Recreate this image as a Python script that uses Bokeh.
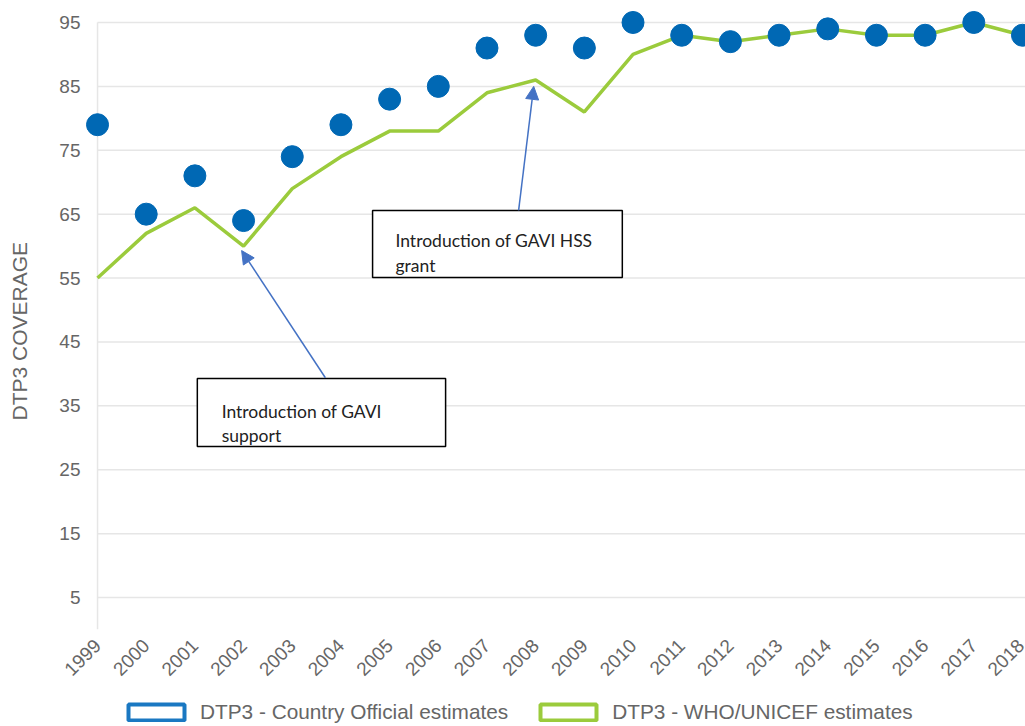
import math
from bokeh.plotting import figure
from bokeh.layouts import column
from bokeh.models import Range1d, FixedTicker, Legend, LegendItem, Arrow, NormalHead, Title
from bokeh.embed import file_html
from bokeh.resources import INLINE
from bokeh.core.properties import value

# ---- data ----
years = list(range(1999, 2019))
official = [79, 65, 71, 64, 74, 79, 83, 85, 91, 93, 91, 95, 93, 92, 93, 94, 93, 93, 95, 93]
who_unicef = [55, 62, 66, 60, 69, 74, 78, 78, 84, 86, 81, 90, 93, 92, 93, 94, 93, 93, 95, 93]
y_ticks = [5, 15, 25, 35, 45, 55, 65, 75, 85, 95]
x_labels = [str(y) for y in years]
series_names = ["DTP3 - Country Official estimates", "DTP3 - WHO/UNICEF estimates"]
y_title = "DTP3 COVERAGE"

# annotations (boxes in data units)
ann_box_left = [2001.05, 2004.65]
ann_box_right = [2006.15, 2009.78]
ann_box_top = [39.28, 65.57]
ann_box_bottom = [28.63, 55.09]
ann_text_x = [2001.55, 2001.55, 2005.12, 2005.12]
ann_text_y = [34.1, 30.3, 60.9, 57.0]
ann_text = ["Introduction of GAVI", "support", "Introduction of GAVI HSS", "grant"]
arrow_start = [(2003.68, 39.4), (2007.65, 65.6)]
arrow_end = [(2001.96, 59.3), (2007.96, 85.0)]

BLUE = "#0068b4"
LEG_BLUE = "#1a78c2"
GREEN = "#9bcb3c"
ARROW = "#4472c4"
GRID = "#e6e6e6"
LABEL = "#666666"

x_start, x_end = 1998.753, 2018.062
y_start, y_end = 0, 98.44

p = figure(width=1025, height=690, output_backend="svg", toolbar_location=None,
           x_range=Range1d(x_start, x_end), y_range=Range1d(y_start, y_end),
           min_border_left=85, min_border_right=0, min_border_top=0, min_border_bottom=61)
p.outline_line_color = None
p.xgrid.visible = False
p.ygrid.visible = False
p.background_fill_color = "white"
p.border_fill_color = "white"

# grid lines (drawn from the tick values)
p.segment(x0=[years[0]] * len(y_ticks), x1=[x_end] * len(y_ticks), y0=y_ticks, y1=y_ticks,
          line_color=GRID, line_width=1.5)
p.segment(x0=[years[0]], x1=[years[0]], y0=[y_start], y1=[y_ticks[-1]], line_color=GRID, line_width=1.5)

# x axis
xa = p.xaxis[0]
xa.ticker = FixedTicker(ticks=years)
xa.major_label_overrides = {y: s for y, s in zip(years, x_labels)}
xa.major_label_orientation = math.pi / 4
xa.axis_line_color = None
xa.major_tick_line_color = None
xa.major_tick_out = 0
xa.major_tick_in = 0
xa.minor_tick_line_color = None
xa.major_label_text_font = "Liberation Sans"
xa.major_label_text_font_size = "19px"
xa.major_label_text_color = LABEL
xa.major_label_standoff = 13

# y axis
ya = p.yaxis[0]
ya.ticker = FixedTicker(ticks=y_ticks)
ya.axis_line_color = None
ya.major_tick_line_color = None
ya.major_tick_out = 0
ya.major_tick_in = 0
ya.minor_tick_line_color = None
ya.major_label_text_font = "Liberation Sans"
ya.major_label_text_font_size = "19px"
ya.major_label_text_color = LABEL
ya.major_label_standoff = 5
ya.axis_label = " "
ya.axis_label_text_font_size = "10px"
ya.axis_label_standoff = 7

p.add_layout(Title(text=y_title, align="left", offset=209, standoff=10,
                   text_font="Liberation Sans", text_font_size="21px",
                   text_font_style="normal", text_color=LABEL), "left")

# annotation boxes
p.quad(left=ann_box_left, right=ann_box_right, top=ann_box_top, bottom=ann_box_bottom,
       fill_color="white", line_color="black", line_width=1.5)
p.text(x=ann_text_x, y=ann_text_y, text=ann_text, text_font=value("Lato"),
       text_font_size="17.5px", text_color="#222222", text_baseline="alphabetic", text_align="left")
for (xs, ys), (xe, ye) in zip(arrow_start, arrow_end):
    p.add_layout(Arrow(end=NormalHead(size=13, fill_color=ARROW, line_color=ARROW),
                       x_start=xs, y_start=ys, x_end=xe, y_end=ye,
                       line_color=ARROW, line_width=1.5))

# series
p.line(years, who_unicef, line_color=GREEN, line_width=3.5)
p.scatter(years, official, size=22, fill_color=BLUE, line_color=BLUE)

# legend strip below the chart
lf = figure(width=1025, height=36, output_backend="svg", toolbar_location=None,
            x_range=Range1d(0, 1), y_range=Range1d(0, 1),
            x_axis_location=None, y_axis_location=None, min_border=0)
lf.outline_line_color = None
lf.grid.visible = False
# legend glyph carriers: their data lie outside this strip's ranges, so only the legend shows them
r1 = lf.quad(left=years[:1], right=years[:1], top=official[:1], bottom=official[:1],
             fill_color="white", line_color=LEG_BLUE, line_width=4)
r2 = lf.quad(left=years[:1], right=years[:1], top=who_unicef[:1], bottom=who_unicef[:1],
             fill_color="white", line_color=GREEN, line_width=4)
legend = Legend(items=[LegendItem(label=series_names[0], renderers=[r1]),
                       LegendItem(label=series_names[1], renderers=[r2])],
                orientation="horizontal", location=(36, 2),
                glyph_width=70, glyph_height=20, spacing=25, label_standoff=9,
                padding=0, margin=0, border_line_color=None, background_fill_alpha=0,
                label_text_font="Liberation Sans", label_text_font_size="20.8px",
                label_text_color=LABEL)
lf.add_layout(legend, "center")

open("out.html", "w").write(file_html(column(p, lf, spacing=0), INLINE))
